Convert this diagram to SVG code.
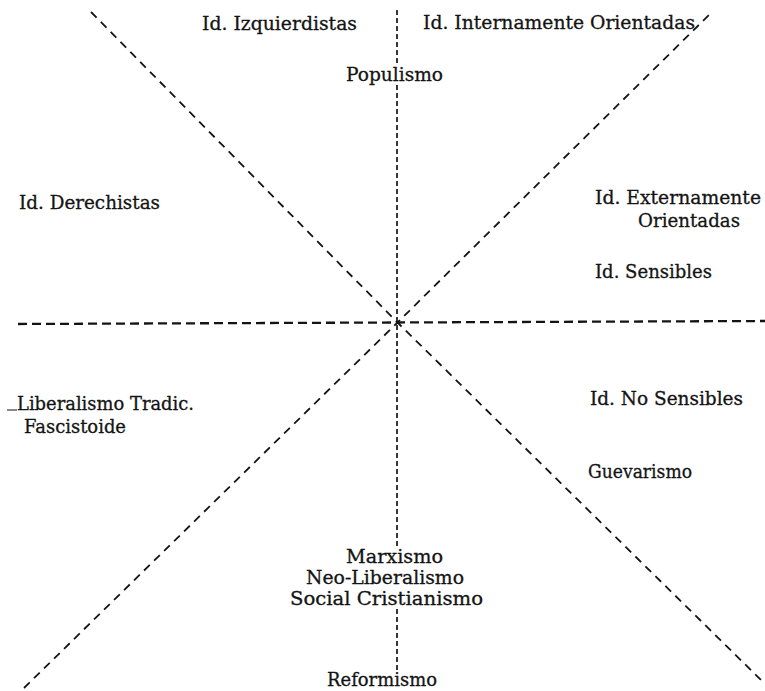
<svg xmlns="http://www.w3.org/2000/svg" width="765" height="691" viewBox="0 0 765 691">
<style>
  .lbl { font-family: "DejaVu Serif", "Liberation Serif", serif; font-size: 18px; fill: #141414; stroke: #141414; stroke-width: 0.3; }
  .h { stroke: #141414; stroke-width: 2.3; stroke-dasharray: 9 5; fill: none; }
  .v { stroke: #141414; stroke-width: 1.7; stroke-dasharray: 5 3; fill: none; }
  .d { stroke: #141414; stroke-width: 1.8; stroke-dasharray: 8 6; fill: none; }
</style>
<rect width="765" height="691" fill="#ffffff"/>
<g id="connectors">
  <path class="h" d="M18,324 L765,321"/>
  <path class="v" d="M397,10 L397,64"/>
  <path class="v" d="M397,85 L397,548"/>
  <path class="v" d="M397,609 L397,672"/>
  <path class="d" d="M91,12 L397,322 L761,680"/>
  <path class="d" d="M24,688 L397,323 L713,11"/>
</g>
<g id="izquierdistas"><text class="lbl" x="202" y="30" textLength="155" lengthAdjust="spacingAndGlyphs">Id. Izquierdistas</text></g>
<g id="internamente"><text class="lbl" x="423" y="29" textLength="272" lengthAdjust="spacingAndGlyphs">Id. Internamente Orientadas</text></g>
<g id="populismo"><text class="lbl" x="346" y="81" textLength="97" lengthAdjust="spacingAndGlyphs">Populismo</text></g>
<g id="derechistas"><text class="lbl" x="19" y="209" textLength="141" lengthAdjust="spacingAndGlyphs">Id. Derechistas</text></g>
<g id="externamente">
  <text class="lbl" x="595" y="204" textLength="166" lengthAdjust="spacingAndGlyphs">Id. Externamente</text>
  <text class="lbl" x="638" y="227" textLength="102" lengthAdjust="spacingAndGlyphs">Orientadas</text>
</g>
<g id="sensibles"><text class="lbl" x="595" y="278" textLength="117" lengthAdjust="spacingAndGlyphs">Id. Sensibles</text></g>
<g id="liberalismo">
  <line x1="7" y1="410" x2="17" y2="410" stroke="#141414" stroke-width="1"/>
  <text class="lbl" x="17" y="410" textLength="177" lengthAdjust="spacingAndGlyphs">Liberalismo Tradic.</text>
  <text class="lbl" x="24" y="433" textLength="102" lengthAdjust="spacingAndGlyphs">Fascistoide</text>
</g>
<g id="nosensibles"><text class="lbl" x="590" y="405" textLength="153" lengthAdjust="spacingAndGlyphs">Id. No Sensibles</text></g>
<g id="guevarismo"><text class="lbl" x="588" y="478" textLength="104" lengthAdjust="spacingAndGlyphs">Guevarismo</text></g>
<g id="centro">
  <text class="lbl" x="346" y="563" textLength="97" lengthAdjust="spacingAndGlyphs">Marxismo</text>
  <text class="lbl" x="306" y="584" textLength="158" lengthAdjust="spacingAndGlyphs">Neo-Liberalismo</text>
  <text class="lbl" x="290" y="605" textLength="193" lengthAdjust="spacingAndGlyphs">Social Cristianismo</text>
</g>
<g id="reformismo"><text class="lbl" x="327" y="686" textLength="110" lengthAdjust="spacingAndGlyphs">Reformismo</text></g>
</svg>
